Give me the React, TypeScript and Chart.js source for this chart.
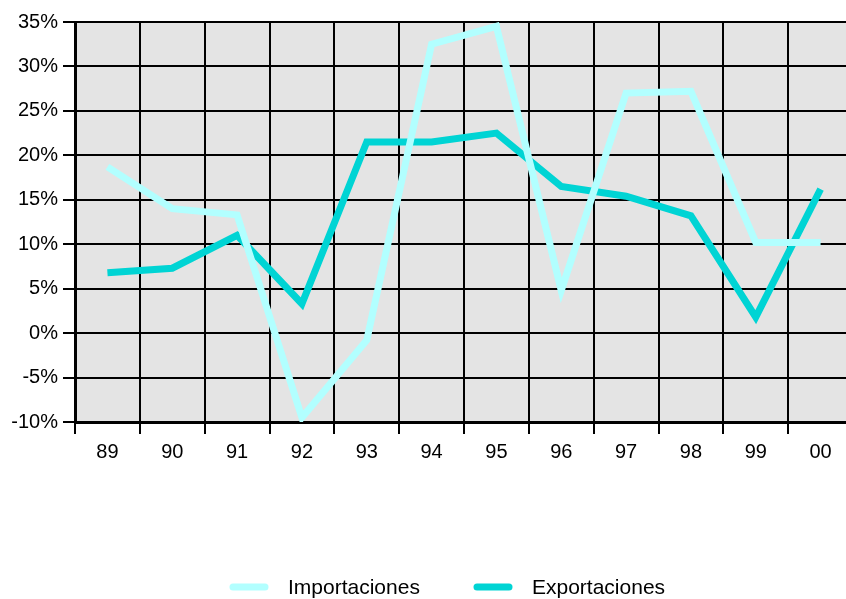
import React, { useEffect, useRef } from "react";
import { Chart, registerables } from "chart.js";

Chart.register(...registerables);

const years = ["89", "90", "91", "92", "93", "94", "95", "96", "97", "98", "99", "00"];
const importaciones = [18.7, 14.0, 13.3, -9.5, -0.8, 32.5, 34.5, 4.8, 27.0, 27.2, 10.2, 10.2];
const exportaciones = [6.8, 7.3, 11.0, 3.3, 21.5, 21.5, 22.5, 16.5, 15.4, 13.2, 1.8, 16.2];
const yMin = -10;
const yMax = 35;
const yStep = 5;

const W = 896;
const H = 599;

const bgPlugin = {
  id: "plotBg",
  beforeDraw(chart: any) {
    const { ctx, chartArea } = chart;
    ctx.save();
    ctx.fillStyle = "#e4e4e4";
    ctx.fillRect(chartArea.left, chartArea.top, chartArea.right - chartArea.left, chartArea.bottom - chartArea.top);
    ctx.restore();
  },
};

const legendPlugin = {
  id: "customLegend",
  afterDraw(chart: any) {
    const { ctx } = chart;
    const starts = [230, 474];
    const y = 587;
    ctx.save();
    ctx.font = "21px 'Liberation Sans', Arial, sans-serif";
    ctx.textBaseline = "middle";
    ctx.textAlign = "left";
    chart.data.datasets.forEach((ds: any, i: number) => {
      const x = starts[i];
      ctx.strokeStyle = ds.borderColor;
      ctx.lineWidth = 7;
      ctx.lineCap = "round";
      ctx.beginPath();
      ctx.moveTo(x + 3, y);
      ctx.lineTo(x + 35, y);
      ctx.stroke();
      ctx.fillStyle = "#000";
      ctx.fillText(ds.label, x + 58, y + 1);
    });
    ctx.restore();
  },
};

export default function App() {
  const ref = useRef<HTMLCanvasElement | null>(null);
  useEffect(() => {
    if (!ref.current) return;
    const chart = new Chart(ref.current, {
      type: "line",
      data: {
        labels: years,
        datasets: [
          {
            label: "Importaciones",
            data: importaciones,
            borderColor: "#b2ffff",
            borderWidth: 7,
            pointRadius: 0,
            tension: 0,
            borderJoinStyle: "miter",
          },
          {
            label: "Exportaciones",
            data: exportaciones,
            borderColor: "#00d4d4",
            borderWidth: 7,
            pointRadius: 0,
            tension: 0,
            borderJoinStyle: "miter",
          },
        ],
      },
      options: {
        responsive: false,
        animation: false,
        layout: { padding: { top: 22, right: 43, left: 0, bottom: 0 } },
        plugins: { legend: { display: false }, tooltip: { enabled: false } },
        scales: {
          x: {
            offset: true,
            grid: { offset: true, color: "#000", lineWidth: 2, tickLength: 12, drawTicks: true },
            border: { display: true, color: "#000", width: 3 },
            ticks: {
              color: "#000",
              font: { family: "'Liberation Sans', Arial, sans-serif", size: 20 },
              padding: 6,
              maxRotation: 0,
              autoSkip: false,
            },
            afterFit(scale: any) {
              scale.height = 177;
            },
          },
          y: {
            min: yMin,
            max: yMax,
            ticks: {
              stepSize: yStep,
              color: "#000",
              font: { family: "'Liberation Sans', Arial, sans-serif", size: 20 },
              padding: 5,
              callback: (v: any) => v + "%",
            },
            grid: { color: "#000", lineWidth: 2, tickLength: 12, drawTicks: true },
            border: { display: true, color: "#000", width: 3 },
            afterFit(scale: any) {
              scale.width = 75;
            },
          },
        },
      },
      plugins: [bgPlugin, legendPlugin],
    });
    return () => chart.destroy();
  }, []);
  return (
    <div style={{ position: "fixed", left: 0, top: 0, width: 846, height: 599, overflow: "hidden", background: "#fff" }}>
      <canvas ref={ref} width={W} height={H} style={{ width: W, height: H, display: "block" }} />
    </div>
  );
}
